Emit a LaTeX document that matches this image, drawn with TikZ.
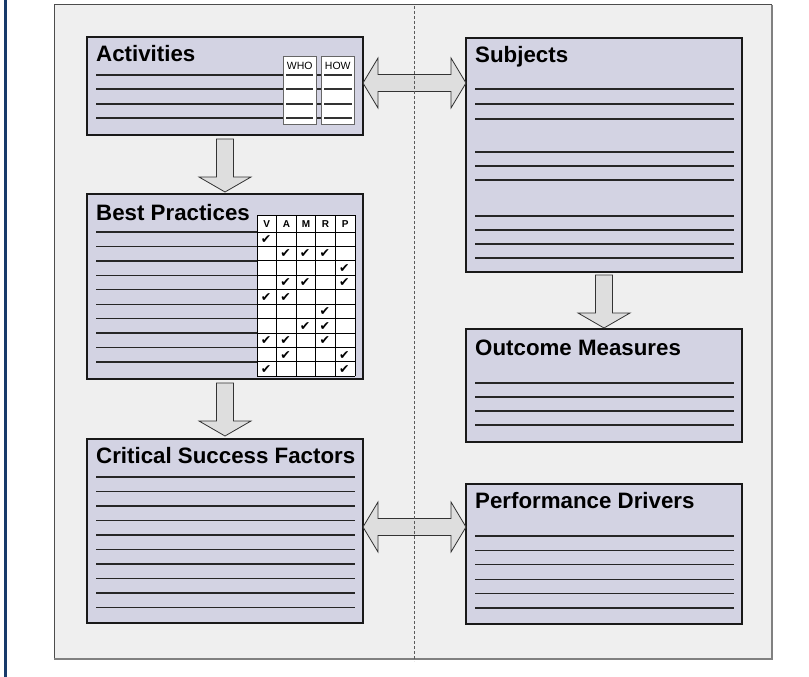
\documentclass[tikz,border=0pt]{standalone}
\usepackage{fontspec}
\setmainfont{Liberation Sans}
\newfontfamily\symfont{DejaVu Sans}
\usetikzlibrary{calc}
\definecolor{panelfill}{HTML}{EFEFEF}
\definecolor{boxfill}{HTML}{D3D3E3}
\definecolor{arrowfill}{HTML}{DEDEDE}
\definecolor{navy}{HTML}{173A6A}
\tikzset{
 box/.style={draw=black!90, line width=1.7pt, fill=boxfill, anchor=north west, inner sep=0pt, outer sep=0pt},
 title/.style={anchor=base west, inner sep=0pt, font=\fontsize{22.3}{26}\selectfont\bfseries},
 rule/.style={draw=black!85, line width=1.3pt},
 blockarrow/.style={fill=arrowfill, draw=black!80, line width=0.8pt, line join=miter},
 minibox/.style={draw=black!60, line width=1pt, fill=white, anchor=north west, inner sep=0pt, outer sep=0pt, minimum width=33.5pt, minimum height=67pt},
 minilabel/.style={font=\fontsize{10.5}{12}\selectfont, inner sep=0pt, anchor=base},
 grid line/.style={draw=black, line width=1pt},
 hdr/.style={font=\fontsize{10}{11}\selectfont\bfseries, inner sep=0pt, anchor=base},
 chk/.style={font=\symfont\fontsize{12.5}{13}\selectfont, inner sep=0pt},
 divider/.style={draw=black!65, line width=1pt, dash pattern=on 3pt off 2pt},
}
\newcommand\myvarrow[2]{\draw[blockarrow] ($(#1)+(-8.5,0)$) -- ($(#2)+(-8.5,-15)$) -- ($(#2)+(-26,-15)$) -- (#2) -- ($(#2)+(26,-15)$) -- ($(#2)+(8.5,-15)$) -- ($(#1)+(8.5,0)$) -- cycle;}
\newcommand\myharrow[2]{\draw[blockarrow] (#1) -- ($(#1)+(15,-25)$) -- ($(#1)+(15,-8.5)$) -- ($(#2)+(-15,-8.5)$) -- ($(#2)+(-15,-25)$) -- (#2) -- ($(#2)+(-15,25)$) -- ($(#2)+(-15,8.5)$) -- ($(#1)+(15,8.5)$) -- ($(#1)+(15,25)$) -- cycle;}
\begin{document}
\begin{tikzpicture}[x=1pt,y=-1pt]
\useasboundingbox (0,0) rectangle (809,677);
% side bar and panel
\fill[navy] (4,0) rectangle (6.5,677);
\fill[panelfill] (54,5) rectangle (772,659);
\draw[draw=black!70, line width=1pt] (54,659) -- (54,5) -- (772,5);
\draw[draw=black!50, line width=1.6pt] (772,5) -- (772,659) -- (54,659);
% boxes
\node[box, minimum width=276pt, minimum height=98pt] (act) at (87,37) {};
\node[box, minimum width=276pt, minimum height=185pt] (bp) at (87,194) {};
\node[box, minimum width=276pt, minimum height=184pt] (csf) at (87,439) {};
\node[box, minimum width=276pt, minimum height=234pt] (subj) at (466,38) {};
\node[box, minimum width=276pt, minimum height=113pt] (om) at (466,329) {};
\node[box, minimum width=276pt, minimum height=140pt] (pd) at (466,484) {};
% titles
\node[title] (actT) at (96,62) {Activities};
\node[title] (bpT) at (96,220) {Best Practices};
\node[title] (csfT) at (96,463) {Critical Success Factors};
\node[title] (subjT) at (475,63) {Subjects};
\node[title] (omT) at (475,355) {Outcome Measures};
\node[title] (pdT) at (475,508) {Performance Drivers};
% ruled lines
\foreach \y in {75,89,104,118} \draw[rule] (96,\y) -- (355,\y);
\foreach \k in {0,...,9} \draw[rule] (96,{232+14.44*\k}) -- (257,{232+14.44*\k});
\foreach \k in {0,...,9} \draw[rule] (96,{477+14.5*\k}) -- (355,{477+14.5*\k});
\foreach \y in {89,104,119,152,166,180,216,230,244,258} \draw[rule] (475,\y) -- (734,\y);
\foreach \k in {0,...,3} \draw[rule] (475,{383+14*\k}) -- (734,{383+14*\k});
\foreach \k in {0,...,5} \draw[rule] (475,{536+14.4*\k}) -- (734,{536+14.4*\k});
% WHO / HOW
\node[minibox] (who) at (283,57) {};
\node[minibox] (how) at (321,57) {};
\node[minilabel] (whoT) at ($(who.north)+(0,13)$) {WHO};
\node[minilabel] (howT) at ($(how.north)+(0,13)$) {HOW};
\foreach \y in {75,89,104,118} {
  \draw[line width=1.1pt, draw=black!80] (286,\y) -- (313,\y);
  \draw[line width=1.1pt, draw=black!80] (324,\y) -- (352,\y);
}
% V A M R P table
\fill[white] (257,215) rectangle (355,376.4);
\foreach \i in {0,...,5} \draw[grid line] ({257+19.6*\i},215) -- ({257+19.6*\i},376.4);
\draw[grid line] (257,215) -- (355,215);
\foreach \k in {0,...,10} \draw[grid line] (257,{232+14.44*\k}) -- (355,{232+14.44*\k});
\foreach \c [count=\i from 0] in {V,A,M,R,P}
  \node[hdr] (h\c) at ({257+19.6*\i+9.8},227.5) {\c};
\foreach \i/\k in {0/0,1/1,2/1,3/1,4/2,1/3,2/3,4/3,0/4,1/4,3/5,2/6,3/6,0/7,1/7,3/7,1/8,4/8,0/9,4/9}
  \node[chk] (c\i-\k) at ({257+19.6*\i+9.0},{232+14.44*\k+7.6}) {✔};
% block arrows
\coordinate (a1s) at ($(act.south)+(0,4)$);
\coordinate (a1e) at ($(bp.north)+(0,-2)$);
\coordinate (a2s) at ($(bp.south)+(0,4)$);
\coordinate (a2e) at ($(csf.north)+(0,-3)$);
\coordinate (a3s) at ($(subj.south)+(0,3)$);
\coordinate (a3e) at ($(om.north)+(0,-1)$);
\myvarrow{a1s}{a1e}
\myvarrow{a2s}{a2e}
\myvarrow{a3s}{a3e}
\coordinate (h1l) at ($(act.east)+(0,-3)$);
\coordinate (h1r) at (subj.west |- h1l);
\coordinate (h2l) at ($(csf.east)+(0,-4)$);
\coordinate (h2r) at (pd.west |- h2l);
\myharrow{h1l}{h1r}
\myharrow{h2l}{h2r}
% divider
\coordinate (dtop) at (414,6);
\coordinate (dbot) at (414,661);
\draw[divider] (dtop) -- (dbot);
\end{tikzpicture}
\end{document}
